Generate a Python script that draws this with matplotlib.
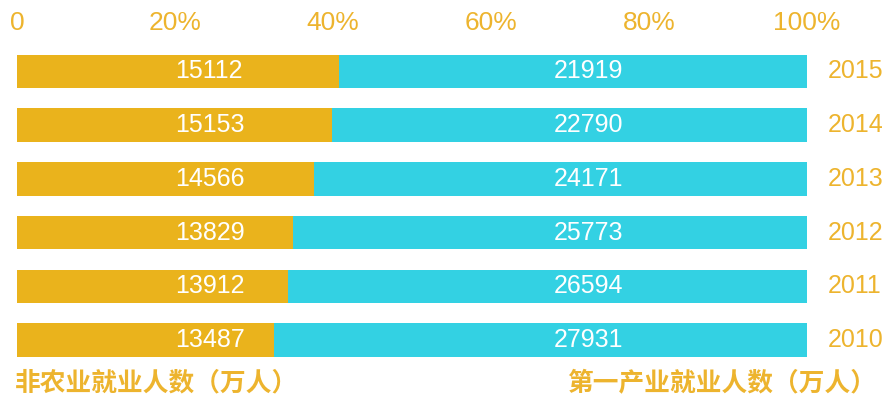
import numpy as np
import matplotlib.pyplot as plt

years = ["2015", "2014", "2013", "2012", "2011", "2010"]
non_agri = np.array([15112, 15153, 14566, 13829, 13912, 13487])
primary = np.array([21919, 22790, 24171, 25773, 26594, 27931])
tick_vals = [0, 0.2, 0.4, 0.6, 0.8, 1.0]
tick_labels = ["0", "20%", "40%", "60%", "80%", "100%"]
label_left = "非农业就业人数（万人）"
label_right = "第一产业就业人数（万人）"

orange = "#EAB31C"
cyan = "#33D1E3"
txt = "#EDB42E"
num_font = ["Liberation Sans", "DejaVu Sans"]
cjk_font = ["Noto Sans CJK SC", "DejaVu Sans"]

total = non_agri + primary
frac_a = non_agri / total
frac_b = primary / total
y = np.arange(len(years))

fig = plt.figure(figsize=(8.83, 4.01), dpi=100)
ax = fig.add_axes([17/883, 0.085, 790/883, 0.804])

ax.barh(y, frac_a, height=0.62, color=orange)
ax.barh(y, frac_b, left=frac_a, height=0.62, color=cyan)

for i in range(len(years)):
    ax.text(0.2, y[i], str(non_agri[i]), color="white", fontsize=18,
            family=num_font, va="center", ha="left")
    ax.text(0.68, y[i], str(primary[i]), color="white", fontsize=18,
            family=num_font, va="center", ha="left")
    ax.text(1.026, y[i], years[i], color=txt, fontsize=18,
            family=num_font, va="center", ha="left")

ax.set_xlim(0, 1)
ax.set_ylim(5.5, -0.5)
ax.xaxis.tick_top()
ax.set_xticks(tick_vals)
ax.set_xticklabels(tick_labels, family=num_font, fontsize=19, color=txt)
ax.tick_params(axis="x", length=0, pad=7)
ax.set_yticks([])
for s in ax.spines.values():
    s.set_visible(False)

fig.text(15/883, 1 - 383/401, label_left, color=txt, fontsize=18.5,
         family=cjk_font, weight="bold", va="center", ha="left")
fig.text(876/883, 1 - 383/401, label_right, color=txt, fontsize=18.5,
         family=cjk_font, weight="bold", va="center", ha="right")

plt.savefig("out.png", dpi=100)
